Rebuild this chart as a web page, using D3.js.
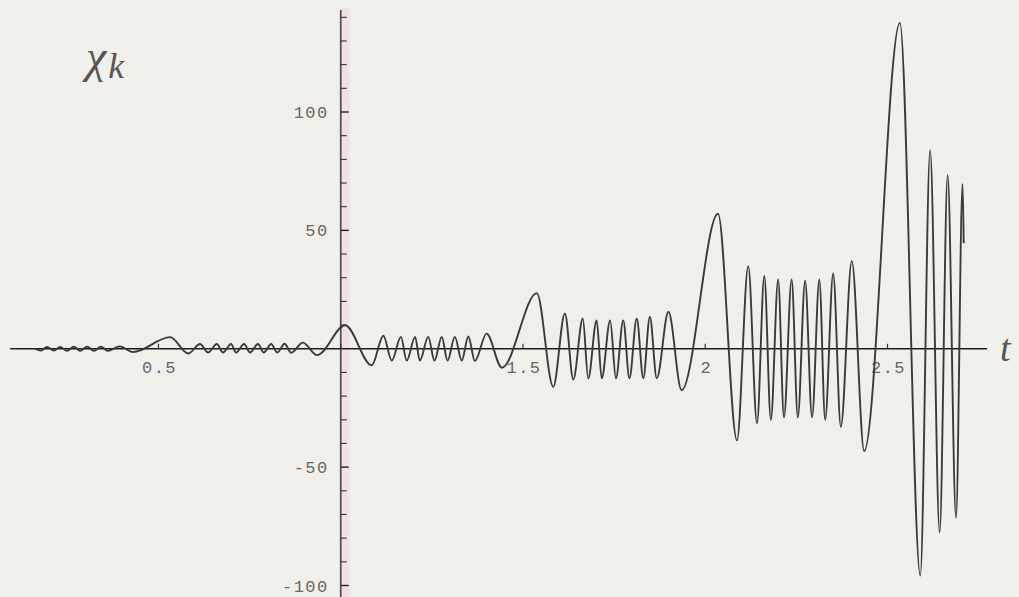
<!DOCTYPE html>
<html>
<head>
<meta charset="utf-8">
<script src="https://cdn.jsdelivr.net/npm/d3@7"></script>
<style>
  html, body { margin: 0; padding: 0; background: #f0efea; }
  svg { display: block; }
</style>
</head>
<body>
<svg id="chart" width="1019" height="597"></svg>
<script>
// ---- data (t, chi_k) ----
const tValues = [
  0.161, 0.178, 0.194, 0.213, 0.230, 0.249, 0.268, 0.285, 0.304, 0.323, 0.342, 0.361, 0.394, 0.430,
  0.532,
  0.582, 0.614, 0.636, 0.660, 0.677, 0.699, 0.713, 0.735, 0.751, 0.773, 0.789, 0.809, 0.826, 0.846, 0.864, 0.896, 0.935,
  1.012,
  1.085, 1.117, 1.140, 1.165, 1.181, 1.204, 1.217, 1.240, 1.257, 1.277, 1.293, 1.313, 1.332, 1.350, 1.368, 1.400, 1.442,
  1.538,
  1.583, 1.615, 1.638, 1.664, 1.679, 1.702, 1.716, 1.739, 1.755, 1.775, 1.792, 1.812, 1.830, 1.848, 1.867, 1.899, 1.935,
  2.035,
  2.087, 2.118, 2.142, 2.162, 2.180, 2.200, 2.216, 2.237, 2.254, 2.274, 2.293, 2.313, 2.329, 2.351, 2.372, 2.402, 2.436,
  2.534,
  2.590, 2.617, 2.643, 2.665, 2.688, 2.706, 2.709
];
const chiValues = [
  0, -0.8, 0.8, -0.8, 0.8, -0.9, 0.9, -0.9, 0.9, -0.9, 0.9, -0.9, 1.0, -1.4,
  4.9,
  -2.0, 2.0, -1.6, 2.0, -1.6, 2.0, -1.6, 2.0, -1.6, 2.0, -1.6, 2.0, -1.6, 2.1, -1.7, 2.6, -2.7,
  9.9,
  -7.0, 5.5, -5.0, 5.0, -5.0, 5.0, -5.0, 5.0, -5.0, 5.0, -5.0, 5.0, -5.0, 5.2, -5.2, 6.4, -8.0,
  23.5,
  -16.1, 14.9, -13.0, 12.8, -12.6, 12.0, -12.5, 12.0, -12.5, 12.0, -12.5, 12.8, -12.5, 13.5, -12.5, 15.6, -17.5,
  57.0,
  -38.7, 34.9, -31.5, 30.7, -30.0, 29.3, -29.0, 29.3, -29.0, 28.7, -29.0, 29.3, -30.0, 31.8, -33.0, 37.1, -43.2,
  137.6,
  -95.8, 83.9, -77.6, 73.4, -71.4, 69.6, 44.6
];
const xTicks = [0.5, 1, 1.5, 2, 2.5];
const xTickLabels = ["0.5", "", "1.5", "2", "2.5"];
const yMajorTicks = [-100, -50, 50, 100];
const yMajorLabels = ["-100", "-50", "50", "100"];
const yMinorTicks = [-90, -80, -70, -60, -40, -30, -20, -10, 10, 20, 30, 40, 60, 70, 80, 90, 110, 120, 130, 140];
const xAxisDomain = [0.093, 2.773];

// ---- drawing ----
const svg = d3.select("#chart");
const W = 1019, H = 597;
svg.append("rect").attr("width", W).attr("height", H).attr("fill", "#f0efea");

const x = d3.scaleLinear().domain([0.5, 2.5]).range([158.5, 887.5]);
const y = d3.scaleLinear().domain([-100, 100]).range([585.5, 112]);

const x0 = x(1);      // vertical axis sits at t = 1
const y0 = y(0);

// faint pink band right of the vertical axis (as in the reference scan)
svg.append("rect").attr("x", x0).attr("y", 8).attr("width", 9).attr("height", H - 8)
  .attr("fill", "#efe1e5");

// vertical axis
svg.append("line").attr("x1", x0).attr("x2", x0).attr("y1", 10).attr("y2", H)
  .attr("stroke", "#5a5054").attr("stroke-width", 1.8);

// y minor ticks
svg.selectAll(".ymin").data(yMinorTicks).enter().append("line")
  .attr("x1", x0).attr("x2", x0 + 6)
  .attr("y1", d => y(d)).attr("y2", d => y(d))
  .attr("stroke", "#333").attr("stroke-width", 1.1);
// y major ticks
svg.selectAll(".ymaj").data(yMajorTicks).enter().append("line")
  .attr("x1", x0).attr("x2", x0 + 8)
  .attr("y1", d => y(d)).attr("y2", d => y(d))
  .attr("stroke", "#222").attr("stroke-width", 1.4);
// y labels
svg.selectAll(".ylab").data(yMajorTicks).enter().append("text")
  .attr("x", x0 - 12).attr("y", d => y(d) + 6)
  .attr("text-anchor", "end")
  .attr("font-family", "'Liberation Mono', 'DejaVu Sans Mono', monospace")
  .attr("font-size", 17).attr("letter-spacing", 1.5)
  .attr("fill", "#666")
  .text((d, i) => yMajorLabels[i]);

// horizontal axis
svg.append("line").attr("x1", x(xAxisDomain[0])).attr("x2", x(xAxisDomain[1]))
  .attr("y1", y0).attr("y2", y0)
  .attr("stroke", "#1c1c1c").attr("stroke-width", 1.6);
svg.selectAll(".xt").data(xTicks).enter().append("line")
  .attr("x1", d => x(d)).attr("x2", d => x(d))
  .attr("y1", y0).attr("y2", y0 - 5)
  .attr("stroke", "#333").attr("stroke-width", 1.2);
svg.selectAll(".xlab").data(xTicks).enter().append("text")
  .attr("x", d => x(d) + 1).attr("y", y0 + 24)
  .attr("text-anchor", "middle")
  .attr("font-family", "'Liberation Mono', 'DejaVu Sans Mono', monospace")
  .attr("font-size", 17).attr("letter-spacing", 1.5)
  .attr("fill", "#666")
  .text((d, i) => xTickLabels[i]);

// curve
const pts = tValues.map((t, i) => [t, chiValues[i]]);
const line = d3.line().x(d => x(d[0])).y(d => y(d[1])).curve(d3.curveMonotoneX);
svg.append("path").attr("d", line(pts))
  .attr("fill", "none").attr("stroke", "#3a3a3a")
  .attr("stroke-width", 1.9).attr("stroke-linejoin", "round");

// axis labels
const lab = svg.append("text").attr("x", 86).attr("y", 72)
  .attr("font-family", "'Liberation Serif', 'DejaVu Serif', serif")
  .attr("font-style", "italic").attr("fill", "#555");
lab.append("tspan").attr("font-size", 46).text("χ");
lab.append("tspan").attr("font-size", 36).attr("dx", 2).attr("dy", 6).text("k");

svg.append("text").attr("x", 1000).attr("y", y0 + 12)
  .attr("font-family", "'Liberation Serif', 'DejaVu Serif', serif")
  .attr("font-style", "italic").attr("font-size", 38).attr("fill", "#555")
  .text("t");
</script>
</body>
</html>
